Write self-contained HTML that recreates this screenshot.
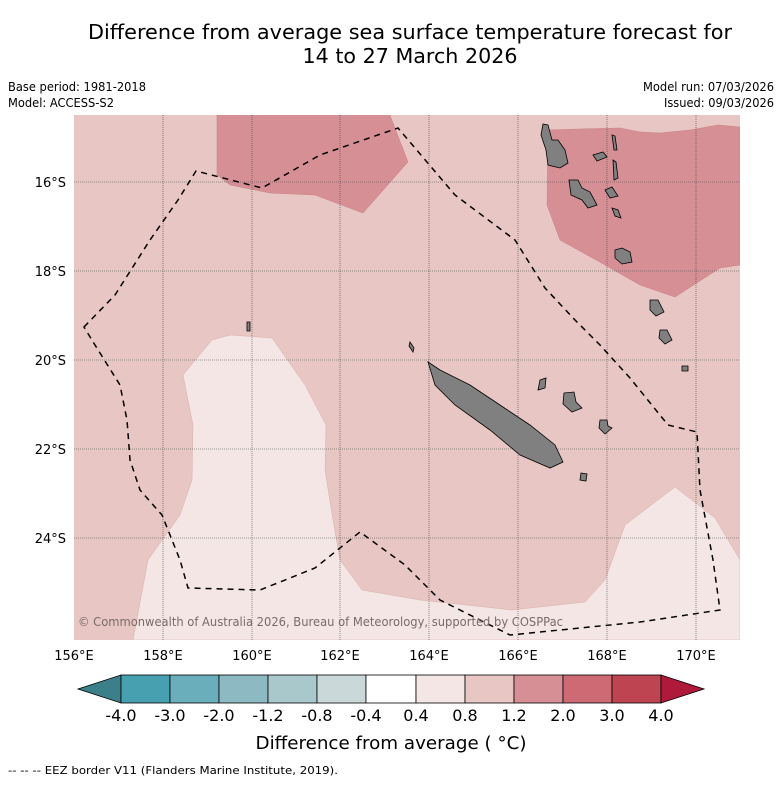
<!DOCTYPE html>
<html><head><meta charset="utf-8"><style>
body{margin:0;background:#fff;font-family:"DejaVu Sans","Liberation Sans",sans-serif;}
</style></head><body>
<svg width="781" height="781" viewBox="0 0 781 781" xmlns="http://www.w3.org/2000/svg" font-family="DejaVu Sans, Liberation Sans, sans-serif">
<text x="410" y="39" font-size="20" text-anchor="middle" textLength="644" lengthAdjust="spacingAndGlyphs" fill="#000">Difference from average sea surface temperature forecast for</text>
<text x="410" y="63" font-size="20" text-anchor="middle" textLength="215" lengthAdjust="spacingAndGlyphs" fill="#000">14 to 27 March 2026</text>
<text x="8" y="91" font-size="12" textLength="138" lengthAdjust="spacingAndGlyphs">Base period: 1981-2018</text>
<text x="8" y="107" font-size="12" textLength="106" lengthAdjust="spacingAndGlyphs">Model: ACCESS-S2</text>
<text x="774" y="91" font-size="12" text-anchor="end" textLength="131" lengthAdjust="spacingAndGlyphs">Model run: 07/03/2026</text>
<text x="774" y="107" font-size="12" text-anchor="end" textLength="110" lengthAdjust="spacingAndGlyphs">Issued: 09/03/2026</text>
<defs><clipPath id="mc"><rect x="74" y="115" width="666" height="525"/></clipPath></defs>
<g clip-path="url(#mc)">
<rect x="74" y="115" width="666" height="525" fill="#e7c6c3"/>
<polygon fill="#f4e6e5" stroke="#d9b0ad" stroke-width="0.5" points="133,640 148,560 180,515 192,480 193,425 183,375 212,340 230,335 272,338 305,385 326,425 325,470 333,520 340,560 362,590 420,600 512,610 585,602 605,580 625,525 675,487 715,518 740,560 740,640"/>
<polygon fill="#d68f95" stroke="#c98088" stroke-width="0.5" points="217,110 217,175 230,185 270,193 315,195 363,213 408,162 388,110"/>
<polygon fill="#d68f95" stroke="#c98088" stroke-width="0.5" points="548,130 547,205 560,240 605,265 640,285 675,297 720,268 740,265 740,127 718,125 690,130 660,133 640,132 620,128 580,129"/>
<g stroke="#444" stroke-width="0.6" stroke-dasharray="1,1">
<line x1="163" y1="115" x2="163" y2="640"/><line x1="252" y1="115" x2="252" y2="640"/><line x1="340" y1="115" x2="340" y2="640"/><line x1="429" y1="115" x2="429" y2="640"/><line x1="518" y1="115" x2="518" y2="640"/><line x1="607" y1="115" x2="607" y2="640"/><line x1="696" y1="115" x2="696" y2="640"/>
<line x1="74" y1="182" x2="740" y2="182"/><line x1="74" y1="271" x2="740" y2="271"/><line x1="74" y1="360" x2="740" y2="360"/><line x1="74" y1="449" x2="740" y2="449"/><line x1="74" y1="538" x2="740" y2="538"/>
</g>
<g fill="#808080" stroke="#000" stroke-width="0.8">
<polygon points="428,362 440,370 470,385 500,405 530,425 555,445 563,462 550,468 520,455 490,430 455,405 435,385"/>
<polygon points="410,342 414,348 413,352 409,346"/>
<polygon points="540,380 546,378 545,388 538,390"/>
<polygon points="564,393 574,392 576,402 582,408 572,412 563,404"/>
<polygon points="600,420 607,420 608,426 612,428 605,434 599,428"/>
<polygon points="581,473 587,474 586,481 580,480"/>
<polygon points="543,124 548,125 552,140 558,140 565,150 568,163 560,168 548,165 546,150 541,135"/>
<polygon points="569,180 578,180 582,188 590,192 597,205 588,208 582,200 571,195"/>
<polygon points="593,155 603,152 607,157 597,161"/>
<polygon points="612,135 615,136 617,150 614,150"/>
<polygon points="613,160 616,162 618,178 614,180"/>
<polygon points="605,190 612,187 618,196 610,198"/>
<polygon points="612,208 618,210 621,218 615,216"/>
<polygon points="615,250 622,248 630,252 632,262 622,264 615,258"/>
<polygon points="650,300 658,300 664,312 656,316 650,310"/>
<polygon points="660,330 667,330 672,340 665,344 659,338"/>
<polygon points="682,366 688,366 688,371 682,371"/>
<polygon points="247,322 250,322 250,331 247,331"/>
</g>
<polygon fill="none" stroke="#000" stroke-width="1.5" stroke-dasharray="6,5" points="84,327 115,295 150,240 178,200 196,171 262,188 320,155 398,128 455,195 515,240 545,288 575,320 600,345 630,378 668,425 697,432 700,490 713,560 720,610 640,622 560,630 510,635 440,600 405,565 360,532 315,568 260,590 188,588 180,560 162,515 140,490 130,460 127,420 120,385 95,345"/>
<text x="78" y="626" font-size="12" fill="#7a6a6a" textLength="485" lengthAdjust="spacingAndGlyphs">© Commonwealth of Australia 2026, Bureau of Meteorology, supported by COSPPac</text>
</g>
<g font-size="13" fill="#000">
<text x="66" y="187" text-anchor="end">16°S</text><text x="66" y="276" text-anchor="end">18°S</text><text x="66" y="365" text-anchor="end">20°S</text><text x="66" y="454" text-anchor="end">22°S</text><text x="66" y="543" text-anchor="end">24°S</text>
</g>
<g font-size="13" fill="#000" text-anchor="middle">
<text x="74" y="660">156°E</text><text x="163" y="660">158°E</text><text x="252" y="660">160°E</text><text x="340" y="660">162°E</text><text x="429" y="660">164°E</text><text x="518" y="660">166°E</text><text x="607" y="660">168°E</text><text x="696" y="660">170°E</text>
</g>
<g stroke="#000" stroke-width="0.8">
<polygon points="78,689 121,675 121,703" fill="#3a7f8a"/>
<rect x="121" y="675" width="49" height="28" fill="#47a0b0"/>
<rect x="170" y="675" width="49" height="28" fill="#6aaebb"/>
<rect x="219" y="675" width="49" height="28" fill="#8db9c3"/>
<rect x="268" y="675" width="49" height="28" fill="#a9c8cc"/>
<rect x="317" y="675" width="49" height="28" fill="#cbd8d9"/>
<rect x="366" y="675" width="50" height="28" fill="#ffffff"/>
<rect x="416" y="675" width="49" height="28" fill="#f4e6e5"/>
<rect x="465" y="675" width="49" height="28" fill="#e7c6c3"/>
<rect x="514" y="675" width="49" height="28" fill="#d68f95"/>
<rect x="563" y="675" width="49" height="28" fill="#cd6a74"/>
<rect x="612" y="675" width="49" height="28" fill="#bf4452"/>
<polygon points="661,675 704,689 661,703" fill="#b01a3a"/>
</g>
<g font-size="16" text-anchor="middle" fill="#000">
<text x="121" y="721">-4.0</text><text x="170" y="721">-3.0</text><text x="219" y="721">-2.0</text><text x="268" y="721">-1.2</text><text x="317" y="721">-0.8</text><text x="366" y="721">-0.4</text><text x="416" y="721">0.4</text><text x="465" y="721">0.8</text><text x="514" y="721">1.2</text><text x="563" y="721">2.0</text><text x="612" y="721">3.0</text><text x="661" y="721">4.0</text>
</g>
<text x="391" y="749" font-size="18" text-anchor="middle" textLength="271" lengthAdjust="spacingAndGlyphs">Difference from average ( °C)</text>
<text x="8" y="774" font-size="11" textLength="330" lengthAdjust="spacingAndGlyphs">--  --  -- EEZ border V11 (Flanders Marine Institute, 2019).</text>
</svg>
</body></html>
